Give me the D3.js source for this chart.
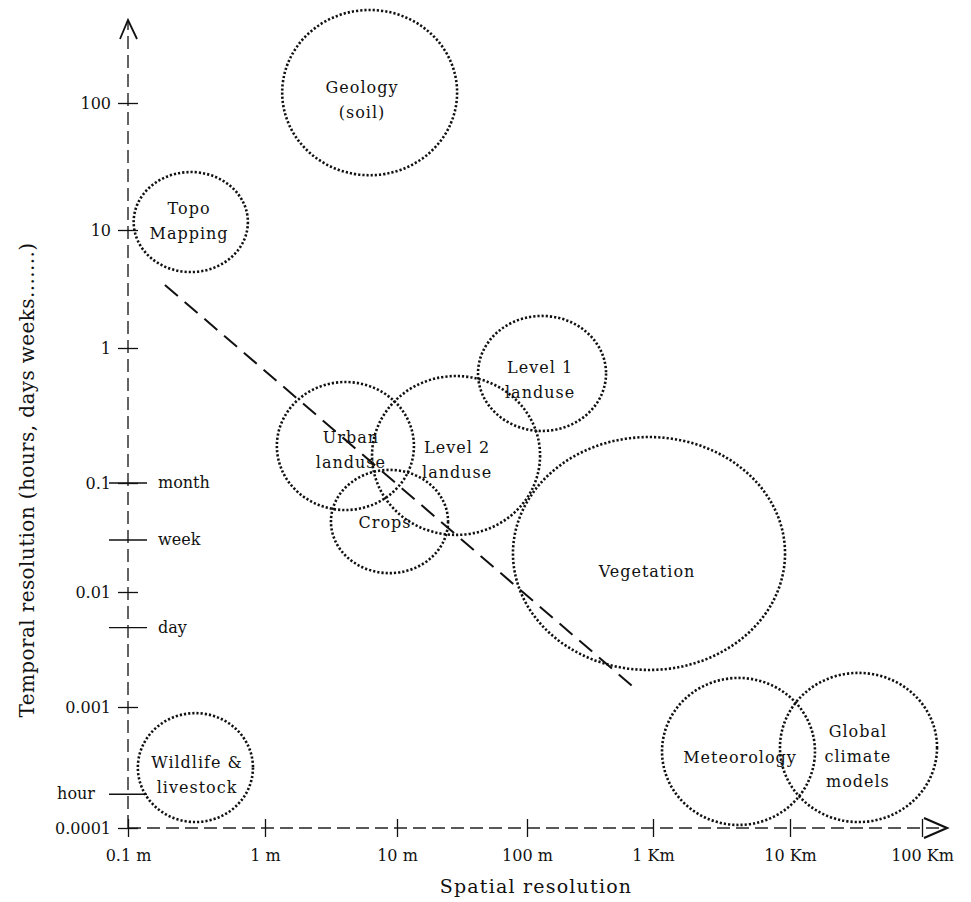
<!DOCTYPE html>
<html>
<head>
<meta charset="utf-8">
<script src="https://cdn.jsdelivr.net/npm/d3@7"></script>
<style>
  body { margin: 0; background: #fff; }
  svg text { font-family: "DejaVu Serif", serif; fill: #111; }
</style>
</head>
<body>
<svg id="chart" width="971" height="902"></svg>
<script>
// spatial axis (metres) and temporal axis
const xTicks = [0.1, 1, 10, 100, 1000, 10000, 100000];
const xTickLabels = ["0.1 m", "1 m", "10 m", "100 m", "1 Km", "10 Km", "100 Km"];
const yTicks = [0.0001, 0.001, 0.01, 0.1, 1, 10, 100];
const yTickLabels = ["0.0001", "0.001", "0.01", "0.1", "1", "10", "100"];

// named time steps on the temporal axis
const timeNames = ["month", "week", "day", "hour"];
const timeValues = [0.1, 0.030, 0.0049, 0.00019];

// application regions: spatial range, temporal range, label anchor
const regionNames = ["Geology\n(soil)", "Topo\nMapping", "Level 1\nlanduse", "Urban\nlanduse",
  "Level 2\nlanduse", "Crops", "Vegetation", "Meteorology", "Global\nclimate\nmodels", "Wildlife &\nlivestock"];
const regionX = [[1.35, 29], [0.11, 0.75], [42, 424], [1.23, 13.5], [6.47, 127],
  [3.16, 24.7], [78, 9200], [1164, 15460], [8450, 130000], [0.118, 0.817]];
const regionY = [[27, 540], [4.4, 28.6], [0.243, 1.87], [0.0565, 0.56], [0.0334, 0.62],
  [0.0149, 0.125], [0.0021, 0.219], [0.000106, 0.00179], [0.000112, 0.00198], [0.000112, 0.00089]];
const labelX = [5.43, 0.279, 127, 4.48, 29, 8.11, 896, 4315, 32700, 0.319];
const labelY = [105, 11.7, 0.579, 0.175, 0.148, 0.0439, 0.0153, 0.00038, 0.000394, 0.000274];

// trend line end points
const trendX = [0.186, 760];
const trendY = [3.42, 0.00138];

const svg = d3.select("#chart");

// hand drawn axes: decades are not evenly spaced
const x = d3.scaleLog().domain(xTicks).range([128, 265, 397, 527, 653, 790, 922]);
const y = d3.scaleLog().domain(yTicks).range([828, 707, 592, 483, 348, 230, 103]);

const x0 = x(0.1), y0 = y(0.0001);

// dashed axis lines with arrows
svg.append("line").attr("x1", x0).attr("y1", y0).attr("x2", x0).attr("y2", 22)
  .attr("stroke", "#222").attr("stroke-width", 1.4).attr("stroke-dasharray", "13,6");
svg.append("path").attr("d", `M${x0 - 8},39L${x0},20L${x0 + 9},39`)
  .attr("fill", "none").attr("stroke", "#111").attr("stroke-width", 1.8);
svg.append("line").attr("x1", x0).attr("y1", y0).attr("x2", 944).attr("y2", y0)
  .attr("stroke", "#222").attr("stroke-width", 1.4).attr("stroke-dasharray", "13,6");
svg.append("path").attr("d", `M924,${y0 - 10}L947,${y0}L924,${y0 + 10}`)
  .attr("fill", "none").attr("stroke", "#111").attr("stroke-width", 2.2);

// x axis ticks
const xg = svg.append("g").attr("transform", `translate(0,${y0})`)
  .call(d3.axisBottom(x).tickValues(xTicks).tickFormat((d, i) => xTickLabels[i]));
xg.select(".domain").remove();
xg.selectAll(".tick line").attr("y1", -9).attr("y2", 9).attr("stroke", "#111").attr("stroke-width", 1.3);
xg.selectAll(".tick text").attr("y", 22).attr("font-size", 16).attr("font-family", "DejaVu Serif");

// y axis ticks
const yg = svg.append("g").attr("transform", `translate(${x0},0)`)
  .call(d3.axisLeft(y).tickValues(yTicks).tickFormat((d, i) => yTickLabels[i]));
yg.select(".domain").remove();
yg.selectAll(".tick line").attr("x1", -10).attr("x2", 10).attr("stroke", "#111").attr("stroke-width", 1.3);
yg.selectAll(".tick text").attr("x", -17).attr("font-size", 16).attr("font-family", "DejaVu Serif");

// month / week / day / hour marks
timeNames.forEach((name, i) => {
  const ty = y(timeValues[i]);
  svg.append("line").attr("x1", x0 - 19).attr("x2", x0 + 19).attr("y1", ty).attr("y2", ty)
    .attr("stroke", "#111").attr("stroke-width", 1.3);
  const left = name === "hour";
  svg.append("text")
    .attr("x", left ? x0 - 33 : x0 + 30).attr("y", ty).attr("dy", "0.32em")
    .attr("text-anchor", left ? "end" : "start")
    .attr("font-size", 16).text(name);
});

// trend line
svg.append("line")
  .attr("x1", x(trendX[0])).attr("y1", y(trendY[0]))
  .attr("x2", x(trendX[1])).attr("y2", y(trendY[1]))
  .attr("stroke", "#111").attr("stroke-width", 2).attr("stroke-dasharray", "17,9");

// regions as dotted ellipses
const regions = regionNames.map((n, i) => ({
  name: n, xr: regionX[i], yr: regionY[i], lx: labelX[i], ly: labelY[i]
}));

svg.selectAll(".region").data(regions).join("ellipse")
  .attr("class", "region")
  .attr("cx", d => (x(d.xr[0]) + x(d.xr[1])) / 2)
  .attr("cy", d => (y(d.yr[0]) + y(d.yr[1])) / 2)
  .attr("rx", d => Math.abs(x(d.xr[1]) - x(d.xr[0])) / 2)
  .attr("ry", d => Math.abs(y(d.yr[0]) - y(d.yr[1])) / 2)
  .attr("fill", "none").attr("stroke", "#111").attr("stroke-width", 2.6)
  .attr("stroke-dasharray", "2.2,2");

svg.selectAll(".region_label").data(regions).join("text")
  .attr("class", "region_label")
  .attr("text-anchor", "middle").attr("font-size", 16)
  .attr("letter-spacing", 1)
  .each(function(d) {
    const lines = d.name.split("\n");
    const t = d3.select(this);
    const lh = 25;
    const top = y(d.ly) - (lines.length - 1) * lh / 2;
    lines.forEach((s, j) => {
      t.append("tspan").attr("x", x(d.lx)).attr("y", top + j * lh).attr("dy", "0.35em").text(s);
    });
  });

// axis titles
svg.append("text").attr("x", 536).attr("y", 893).attr("text-anchor", "middle")
  .attr("font-size", 19).attr("letter-spacing", 1.2).text("Spatial resolution");
svg.append("text").attr("transform", "translate(27,480) rotate(-90)")
  .attr("text-anchor", "middle").attr("dy", "0.35em")
  .attr("font-size", 20).attr("letter-spacing", 0.4)
  .text("Temporal resolution (hours, days weeks.......)");
</script>
</body>
</html>
